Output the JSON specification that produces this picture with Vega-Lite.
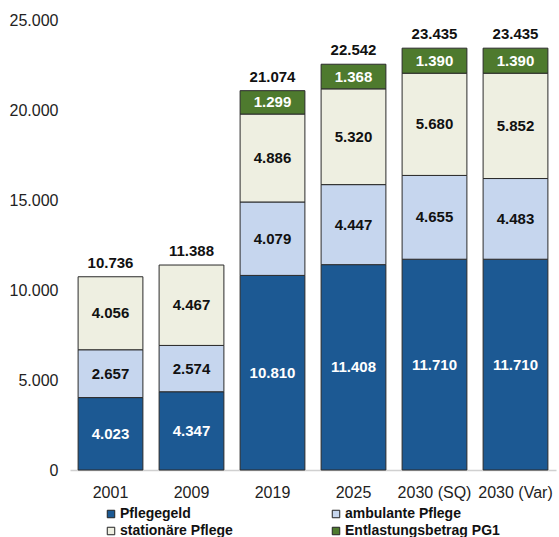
{
  "$schema": "https://vega.github.io/schema/vega-lite/v6.json",
  "width": 486,
  "height": 450,
  "autosize": {"type": "none"},
  "padding": {"left": 70, "top": 20, "right": 3, "bottom": 67},
  "config": {
    "locale": {"number": {"decimal": ",", "thousands": ".", "grouping": [3], "currency": ["", " €"]}},
    "font": "Liberation Sans",
    "view": {"stroke": null}
  },
  "datasets": {
    "segmente": [
      {"Jahr": "2001", "Kategorie": "Pflegegeld", "Ordnung": 1, "Wert": 4023},
      {"Jahr": "2001", "Kategorie": "ambulante Pflege", "Ordnung": 2, "Wert": 2657},
      {"Jahr": "2001", "Kategorie": "stationäre Pflege", "Ordnung": 3, "Wert": 4056},
      {"Jahr": "2009", "Kategorie": "Pflegegeld", "Ordnung": 1, "Wert": 4347},
      {"Jahr": "2009", "Kategorie": "ambulante Pflege", "Ordnung": 2, "Wert": 2574},
      {"Jahr": "2009", "Kategorie": "stationäre Pflege", "Ordnung": 3, "Wert": 4467},
      {"Jahr": "2019", "Kategorie": "Pflegegeld", "Ordnung": 1, "Wert": 10810},
      {"Jahr": "2019", "Kategorie": "ambulante Pflege", "Ordnung": 2, "Wert": 4079},
      {"Jahr": "2019", "Kategorie": "stationäre Pflege", "Ordnung": 3, "Wert": 4886},
      {"Jahr": "2019", "Kategorie": "Entlastungsbetrag PG1", "Ordnung": 4, "Wert": 1299},
      {"Jahr": "2025", "Kategorie": "Pflegegeld", "Ordnung": 1, "Wert": 11408},
      {"Jahr": "2025", "Kategorie": "ambulante Pflege", "Ordnung": 2, "Wert": 4447},
      {"Jahr": "2025", "Kategorie": "stationäre Pflege", "Ordnung": 3, "Wert": 5320},
      {"Jahr": "2025", "Kategorie": "Entlastungsbetrag PG1", "Ordnung": 4, "Wert": 1368},
      {"Jahr": "2030 (SQ)", "Kategorie": "Pflegegeld", "Ordnung": 1, "Wert": 11710},
      {"Jahr": "2030 (SQ)", "Kategorie": "ambulante Pflege", "Ordnung": 2, "Wert": 4655},
      {"Jahr": "2030 (SQ)", "Kategorie": "stationäre Pflege", "Ordnung": 3, "Wert": 5680},
      {"Jahr": "2030 (SQ)", "Kategorie": "Entlastungsbetrag PG1", "Ordnung": 4, "Wert": 1390},
      {"Jahr": "2030 (Var)", "Kategorie": "Pflegegeld", "Ordnung": 1, "Wert": 11710},
      {"Jahr": "2030 (Var)", "Kategorie": "ambulante Pflege", "Ordnung": 2, "Wert": 4483},
      {"Jahr": "2030 (Var)", "Kategorie": "stationäre Pflege", "Ordnung": 3, "Wert": 5852},
      {"Jahr": "2030 (Var)", "Kategorie": "Entlastungsbetrag PG1", "Ordnung": 4, "Wert": 1390}
    ],
    "summen": [
      {"Jahr": "2001", "Summe": 10736},
      {"Jahr": "2009", "Summe": 11388},
      {"Jahr": "2019", "Summe": 21074},
      {"Jahr": "2025", "Summe": 22542},
      {"Jahr": "2030 (SQ)", "Summe": 23435},
      {"Jahr": "2030 (Var)", "Summe": 23435}
    ]
  },
  "encoding": {
    "x": {
      "field": "Jahr", "type": "nominal", "sort": null,
      "scale": {"paddingInner": 0.2, "paddingOuter": 0.1},
      "axis": {"title": null, "labelAngle": 0, "ticks": false, "labelPadding": 14, "labelFontSize": 16, "labelColor": "#222", "domainColor": "#d0d0d0", "domainWidth": 1.5}
    }
  },
  "layer": [
    {
      "data": {"name": "segmente"},
      "transform": [{"stack": "Wert", "groupby": ["Jahr"], "sort": [{"field": "Ordnung", "order": "ascending"}], "as": ["w0", "w1"]}],
      "mark": {"type": "bar", "stroke": "#2a2a2a", "strokeWidth": 1},
      "encoding": {
        "y": {
          "field": "w1", "type": "quantitative",
          "scale": {"domain": [0, 25000], "nice": false},
          "axis": {"title": null, "values": [0, 5000, 10000, 15000, 20000, 25000], "format": ",d", "grid": false, "domain": false, "ticks": false, "tickSize": 0, "labelPadding": 12, "labelFontSize": 16, "labelColor": "#222"}
        },
        "y2": {"field": "w0"},
        "color": {
          "field": "Kategorie", "type": "nominal",
          "scale": {"domain": ["Pflegegeld", "stationäre Pflege", "ambulante Pflege", "Entlastungsbetrag PG1"], "range": ["#1C5993", "#EEEFE1", "#C6D6EE", "#4E7A2E"]},
          "legend": {
            "title": null, "orient": "none", "legendX": 34, "legendY": 487, "columns": 2, "columnPadding": 96, "rowPadding": 3,
            "symbolType": "square", "symbolSize": 56, "symbolStrokeColor": "#222", "symbolStrokeWidth": 1, "symbolOffset": 0,
            "labelFontSize": 14, "labelFontWeight": "bold", "labelColor": "#111", "labelOffset": 2
          }
        }
      }
    },
    {
      "data": {"name": "segmente"},
      "transform": [
        {"stack": "Wert", "groupby": ["Jahr"], "sort": [{"field": "Ordnung", "order": "ascending"}], "as": ["w0", "w1"]},
        {"fold": ["w0", "w1"], "as": ["grenze", "pos"]},
        {"aggregate": [{"op": "mean", "field": "pos", "as": "mitte"}], "groupby": ["Jahr", "Kategorie", "Wert"]}
      ],
      "mark": {"type": "text", "fontSize": 15, "fontWeight": "bold", "baseline": "middle"},
      "encoding": {
        "y": {"field": "mitte", "type": "quantitative"},
        "text": {"field": "Wert", "type": "quantitative", "format": ",d"},
        "color": {
          "condition": {"test": "datum.Kategorie == 'Pflegegeld' || datum.Kategorie == 'Entlastungsbetrag PG1'", "value": "#ffffff"},
          "value": "#111111"
        }
      }
    },
    {
      "data": {"name": "summen"},
      "mark": {"type": "text", "fontSize": 15, "fontWeight": "bold", "baseline": "bottom", "dy": -6, "color": "#111"},
      "encoding": {
        "y": {"field": "Summe", "type": "quantitative"},
        "text": {"field": "Summe", "type": "quantitative", "format": ",d"}
      }
    }
  ]
}
